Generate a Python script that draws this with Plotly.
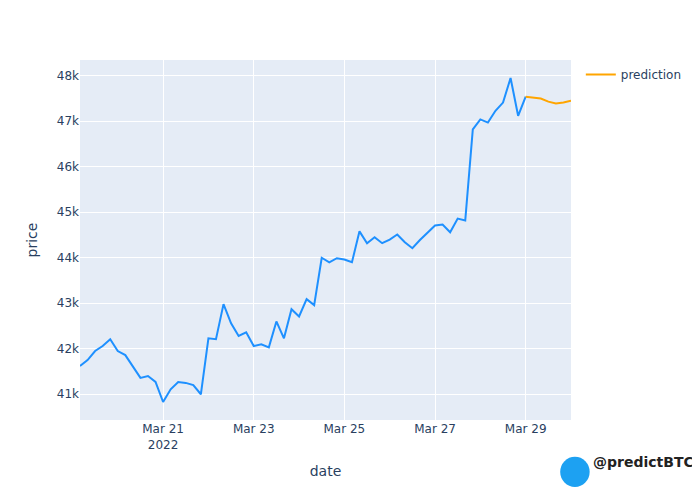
import plotly.graph_objects as go
import pandas as pd

price = [41.62,41.75,41.95,42.06,42.21,41.95,41.86,41.62,41.36,41.40,41.27,40.83,41.11,41.27,41.25,41.20,41.0,
         42.23,42.21,42.98,42.56,42.28,42.36,42.06,42.10,42.03,42.6,42.23,42.87,42.71,43.09,42.96,44.0,43.9,
         43.99,43.96,43.9,44.58,44.32,44.45,44.32,44.40,44.51,44.34,44.21,44.39,44.54,44.71,44.73,44.56,44.86,
         44.82,46.82,47.04,46.97,47.23,47.41,47.95,47.12,47.54]
pred = [47.54,47.52,47.50,47.43,47.39,47.41,47.45]

dates = pd.date_range("2022-03-19 04:00", periods=len(price), freq="4h")
pdates = pd.date_range(dates[-1], periods=len(pred), freq="4h")

fig = go.Figure()
fig.add_trace(go.Scatter(x=dates, y=[v*1000 for v in price], mode="lines",
                         line=dict(color="#1e90ff"), showlegend=False, name="price"))
fig.add_trace(go.Scatter(x=pdates, y=[v*1000 for v in pred], mode="lines",
                         line=dict(color="orange"), name="prediction"))
fig.update_layout(width=700, height=500, margin=dict(t=52, b=88, l=72, r=137, autoexpand=False),
                  font=dict(family="DejaVu Sans", size=12, color="#2a3f5f"),
                  xaxis=dict(title="date", range=[dates[0], pdates[-1]]),
                  yaxis=dict(title="price"),
                  legend=dict(x=1.02, y=1))
fig.add_shape(type="circle", xref="paper", yref="paper", x0=0.978, x1=1.038, y0=-0.186, y1=-0.102,
              fillcolor="#1da1f2", line=dict(width=0))
fig.add_annotation(xref="paper", yref="paper", x=1.04, y=-0.144, xanchor="left", showarrow=False,
                   text="<b>@predictBTC</b>", font=dict(size=14, color="#222"))
fig.write_html("out.html")
